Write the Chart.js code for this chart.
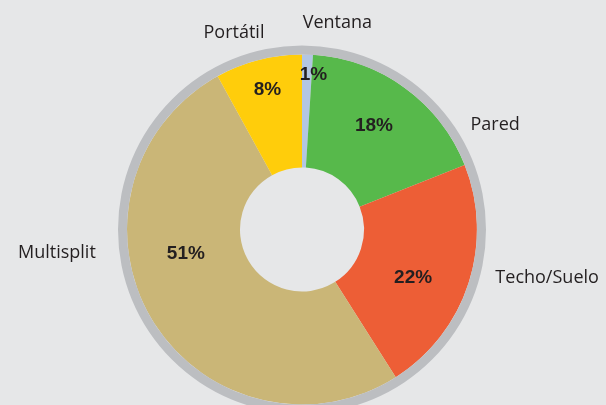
<!DOCTYPE html>
<html>
<head>
<meta charset="utf-8">
<script src="https://cdn.jsdelivr.net/npm/chart.js@4/dist/chart.umd.min.js"></script>
<style>
  html, body { margin: 0; padding: 0; background: #e6e7e8; }
  #wrap { width: 606px; height: 405px; position: relative; }
</style>
</head>
<body>
<div id="wrap"><canvas id="c" width="606" height="405"></canvas></div>
<script>
// ---- data ----
const categories = ['Ventana', 'Pared', 'Techo/Suelo', 'Multisplit', 'Portátil'];
const shares = [1, 18, 22, 51, 8];
const shareLabels = ['1%', '18%', '22%', '51%', '8%'];
const sliceColors = ['#b3c6e2', '#57b94b', '#ed5e36', '#cab677', '#ffcd0b'];
const ringValue = [100];

// ---- text placement (polar: degrees clockwise from top, fraction of outer radius) ----
const pctPlace = [[4.2, 0.845], [34.8, 0.685], [113.6, 0.659], [258.1, 0.645], [346.1, 0.781]];
const namePlace = [[9.7, 1.141], [61.6, 1.193], [101.2, 1.358], [264.6, 1.338], [340.9, 1.130]];

const labelPlugin = {
  id: 'sliceLabels',
  afterDatasetsDraw(chart) {
    const meta = chart.getDatasetMeta(1);
    const outer = chart.getDatasetMeta(0).data[0];
    const cx = outer.x, cy = outer.y, R = outer.outerRadius;
    const ctx = chart.ctx;
    ctx.save();
    ctx.textAlign = 'center';
    ctx.textBaseline = 'middle';
    meta.data.forEach((arc, i) => {
      const [a, f] = pctPlace[i];
      const t = a * Math.PI / 180;
      ctx.fillStyle = '#231f20';
      ctx.font = 'bold 19px "Liberation Sans", Arial, sans-serif';
      ctx.fillText(shareLabels[i], cx + Math.sin(t) * R * f, cy - Math.cos(t) * R * f);
      const [a2, f2] = namePlace[i];
      const t2 = a2 * Math.PI / 180;
      ctx.font = '18px "Open Sans", sans-serif';
      ctx.fillText(categories[i], cx + Math.sin(t2) * R * f2, cy - Math.cos(t2) * R * f2);
    });
    ctx.restore();
  }
};

new Chart(document.getElementById('c'), {
  type: 'doughnut',
  data: {
    labels: categories,
    datasets: [
      { data: ringValue, backgroundColor: ['#bcbec1'], borderWidth: 0, weight: 9 },
      { data: shares, backgroundColor: sliceColors, borderWidth: 0, weight: 113 }
    ]
  },
  options: {
    responsive: false,
    animation: false,
    radius: 184,
    cutout: '33.7%',
    layout: { padding: { top: 54, bottom: 0, left: 0, right: 2 } },
    plugins: { legend: { display: false }, tooltip: { enabled: false } }
  },
  plugins: [labelPlugin]
});
</script>
</body>
</html>
